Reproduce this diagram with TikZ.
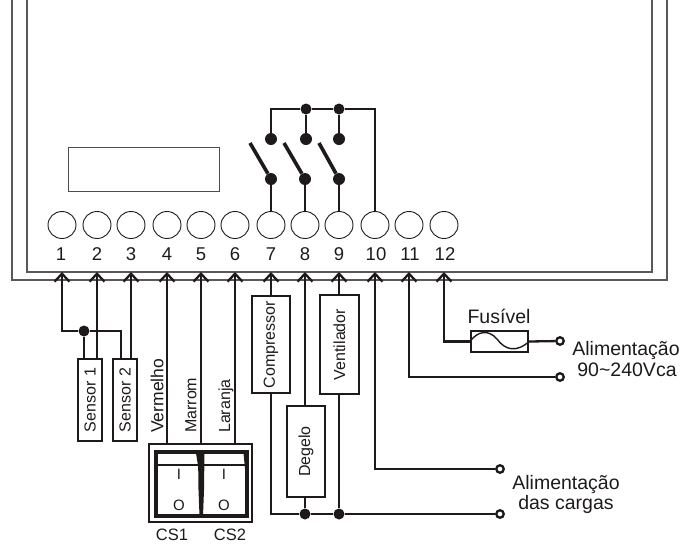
\documentclass[tikz,border=0pt]{standalone}
\usepackage{fontspec}
\setmainfont{Liberation Sans}
\usetikzlibrary{arrows.meta,shapes.geometric}
\definecolor{ink}{RGB}{30,26,26}
\tikzset{
	frame/.style={draw=black!65, line width=1.4pt},
	wire/.style={draw=ink, line width=2.3pt},
	feed/.style={wire, <-},
	terminal/.style={draw=ink, ellipse, line width=0.9pt, minimum width=28pt, minimum height=27pt, inner sep=0pt},
	junction/.style={circle, fill=ink, minimum size=11pt, inner sep=0pt},
	contact/.style={circle, fill=ink, minimum size=12pt, inner sep=0pt},
	lead/.style={circle, draw=ink, fill=white, line width=2.3pt, minimum size=7.5pt, inner sep=0pt},
	loadbox/.style={draw=ink, line width=2.3pt, inner sep=0pt, text=ink},
	num/.style={font=\fontsize{18.5}{20}\selectfont, inner sep=0pt, text=ink},
	txt/.style={font=\fontsize{19.5}{21}\selectfont, inner sep=0pt, text=ink},
	small/.style={font=\fontsize{15}{16}\selectfont, inner sep=0pt, text=ink},
	side/.style={font=\fontsize{16}{18}\selectfont, inner sep=0pt, text=ink, rotate=90, anchor=west}
}
\newcommand{\upright}[1]{\rotatebox{90}{\fontsize{16}{18}\selectfont #1}}
\begin{document}
\begin{tikzpicture}[>={Straight Barb[length=8pt,width=15pt,line width=2.3pt]}, x=1pt, y=-1pt]
	\useasboundingbox (0,0) rectangle (683,544);
	\draw[frame] (12,0) |- (667,280) -- (667,0);
	\draw[frame] (27,0) |- (652,272) -- (652,0);
	\draw[draw=black!70, line width=1pt] (68,147) rectangle (219,191);
	% terminals
	\node[terminal] (t1) at (62,225) {};
	\node[terminal] (t2) at (97,225) {};
	\node[terminal] (t3) at (131,225) {};
	\node[terminal] (t4) at (167,225) {};
	\node[terminal] (t5) at (201,225) {};
	\node[terminal] (t6) at (235,225) {};
	\node[terminal] (t7) at (271,225) {};
	\node[terminal] (t8) at (305,225) {};
	\node[terminal] (t9) at (339,225) {};
	\node[terminal] (t10) at (375,225) {};
	\node[terminal] (t11) at (409,225) {};
	\node[terminal] (t12) at (444,225) {};
	\node[num] (n1) at (61,254) {1};
	\node[num] (n2) at (97,254) {2};
	\node[num] (n3) at (131,254) {3};
	\node[num] (n4) at (167,254) {4};
	\node[num] (n5) at (201,254) {5};
	\node[num] (n6) at (235,254) {6};
	\node[num] (n7) at (271,254) {7};
	\node[num] (n8) at (305,254) {8};
	\node[num] (n9) at (339,254) {9};
	\node[num] (n10) at (376,254) {10};
	\node[num] (n11) at (410,254) {11};
	\node[num] (n12) at (445,254) {12};
	\coordinate (a1) at (62,272);
	\coordinate (a2) at (97,272);
	\coordinate (a3) at (131,272);
	\coordinate (a4) at (167,272);
	\coordinate (a5) at (201,272);
	\coordinate (a6) at (235,272);
	\coordinate (a7) at (271,272);
	\coordinate (a8) at (305,272);
	\coordinate (a9) at (339,272);
	\coordinate (a10) at (375,272);
	\coordinate (a11) at (409,272);
	\coordinate (a12) at (444,272);
	% relays
	\node[contact] (up7) at (271,139) {};
	\node[contact] (up8) at (306,139) {};
	\node[contact] (up9) at (339,139) {};
	\node[contact] (lo7) at (271,179) {};
	\node[contact] (lo8) at (305,179) {};
	\node[contact] (lo9) at (339,179) {};
	\node[junction] (top8) at (306,109) {};
	\node[junction] (top9) at (339,109) {};
	\coordinate (tip7) at (250,143);
	\coordinate (tip8) at (284,143);
	\coordinate (tip9) at (319,143);
	\draw[wire] (up7) |- (top8) -- (top9) -| (t10.north);
	\draw[wire] (top8) -- (up8);
	\draw[wire] (top9) -- (up9);
	\draw[wire] (lo7) -- (t7.north);
	\draw[wire] (lo8) -- (t8.north);
	\draw[wire] (lo9) -- (t9.north);
	\draw[wire, line width=3.6pt] (tip7) -- (lo7);
	\draw[wire, line width=3.6pt] (tip8) -- (lo8);
	\draw[wire, line width=3.6pt] (tip9) -- (lo9);
	% sensors
	\node[loadbox, minimum width=24pt, minimum height=82pt] (sen1) at (90,400) {\upright{Sensor 1}};
	\node[loadbox, minimum width=24pt, minimum height=82pt] (sen2) at (125,400) {\upright{Sensor 2}};
	\node[junction] (jsen) at (84,331) {};
	\coordinate (c2) at (121,359);
	\draw[feed] (a1) |- (jsen);
	\draw[wire] (jsen) -- (jsen |- sen1.north);
	\draw[wire] (jsen) -| (c2);
	\draw[feed] (a2) -- (a2 |- sen1.north);
	\draw[feed] (a3) -- (a3 |- sen2.north);
	% chave
	\node[draw=ink, line width=2.6pt, minimum width=103pt, minimum height=78pt, inner sep=0pt] (cs) at (200.5,483) {};
	\node[draw=ink, line width=4pt, minimum width=91pt, minimum height=64pt, inner sep=0pt] (csin) at (201,483.5) {};
	\fill[ink] (198,452) -- (204.5,452) -- (204,490) -- (203,516) -- (199.5,516) -- (198.5,490) -- cycle;
	\fill[ink] (243.5,453) -- (247,453) -- (247,474) -- (245.5,474) -- cycle;
	\fill[ink] (196,453) -- (199,453) -- (199,472) -- cycle;
	\draw[wire, line width=1.8pt] (156,465) -- (247,465);
	\node[small] (i1) at (179,474) {I};
	\node[small] (i2) at (224,474) {I};
	\node[small] (o1) at (179,505) {O};
	\node[small] (o2) at (224,505) {O};
	\node[font=\fontsize{16.5}{18}\selectfont, inner sep=0pt, text=ink] (cs1) at (172,535) {CS1};
	\node[font=\fontsize{16.5}{18}\selectfont, inner sep=0pt, text=ink] (cs2) at (230,535) {CS2};
	\draw[feed] (a4) -- (a4 |- cs.north);
	\draw[feed] (a5) -- (a5 |- cs.north);
	\draw[feed] (a6) -- (a6 |- cs.north);
	\node[side, font=\fontsize{17.5}{18}\selectfont] (ver) at (157,433) {Vermelho};
	\node[side] (mar) at (191,433) {Marrom};
	\node[side] (lar) at (226,433) {Laranja};
	% cargas
	\node[loadbox, minimum width=38pt, minimum height=97pt] (comp) at (271,344.5) {\upright{Compressor}};
	\node[loadbox, minimum width=38pt, minimum height=91pt] (deg) at (306,451.5) {\upright{Degelo}};
	\node[loadbox, minimum width=39pt, minimum height=99pt] (vent) at (339.5,344.5) {\upright{Ventilador}};
	\node[junction] (jdeg) at (305,514) {};
	\node[junction] (jvent) at (339,514) {};
	\node[lead] (p1) at (500,469) {};
	\node[lead] (p2) at (500,514) {};
	\node[lead] (p3) at (560,377) {};
	\node[lead] (p4) at (560,341) {};
	\draw[feed] (a7) -- (a7 |- comp.north);
	\draw[feed] (a8) -- (a8 |- deg.north);
	\draw[feed] (a9) -- (a9 |- vent.north);
	\draw[wire] (a7 |- comp.south) |- (jdeg);
	\draw[wire] (jdeg) -- (jvent) -- (p2);
	\draw[wire] (a8 |- deg.south) -- (jdeg);
	\draw[wire] (a9 |- vent.south) -- (jvent);
	\draw[feed] (a10) |- (p1);
	\draw[feed] (a11) |- (p3);
	% fusivel
	\node[loadbox, minimum width=57pt, minimum height=21pt] (fuse) at (499.5,341.5) {};
	\draw[feed] (a12) |- (fuse.west);
	\draw[wire] (fuse.east) -- (p4);
	\draw[wire, line width=1.4pt] (fuse.west) .. controls (478,331) and (488,329) .. (497,339) .. controls (505,350) and (516,353) .. (fuse.east);
	\node[txt] (fus) at (499,316) {Fusível};
	\node[txt] (al1) at (626,350) {Alimentação};
	\node[txt] (al2) at (627,370) {90\textasciitilde 240Vca};
	\node[txt] (al3) at (566,484) {Alimentação};
	\node[txt] (al4) at (566,504) {das cargas};
\end{tikzpicture}
\end{document}
